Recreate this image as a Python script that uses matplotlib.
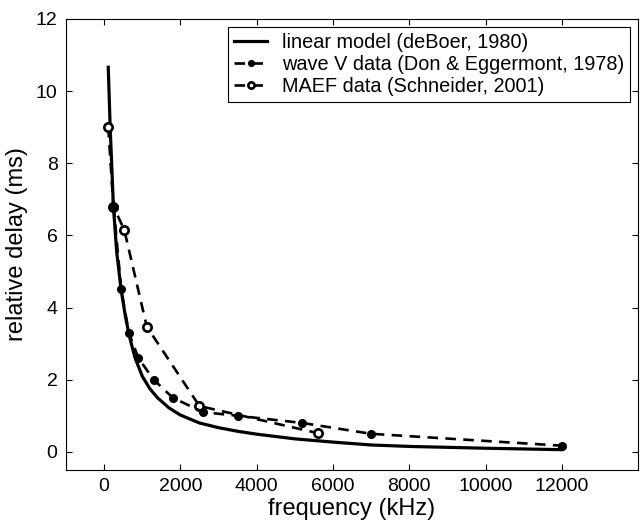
import matplotlib
matplotlib.use("Agg")
import matplotlib.pyplot as plt

plt.rcParams["font.family"] = ["Liberation Sans", "DejaVu Sans"]

# linear model (deBoer, 1980)
model_f = [110, 160, 245, 330, 446, 560, 665, 814, 1000, 1200, 1400, 1700, 2000,
           2500, 3000, 3500, 4000, 5000, 6000, 7000, 8000, 10000, 12000]
model_d = [10.66, 9.0, 6.8, 5.55, 4.5, 3.75, 3.2, 2.6, 2.1, 1.75, 1.5, 1.22, 1.02,
           0.8, 0.67, 0.57, 0.49, 0.36, 0.27, 0.19, 0.15, 0.10, 0.06]

# wave V data (Don & Eggermont, 1978)
wave_f = [250, 450, 650, 900, 1300, 1800, 2600, 3500, 5200, 7000, 12000]
wave_d = [6.8, 4.5, 3.3, 2.6, 2.0, 1.5, 1.1, 1.0, 0.8, 0.5, 0.17]

# MAEF data (Schneider, 2001)
maef_f = [110, 245, 530, 1120, 2500, 5600]
maef_d = [9.0, 6.8, 6.15, 3.47, 1.27, 0.52]

fig = plt.figure(figsize=(6.4, 5.25), dpi=100)
ax = fig.add_axes([0.103, 0.105, 0.894, 0.859])

l1, = ax.plot(model_f, model_d, color="black", lw=2.3, label="linear model (deBoer, 1980)")
l3, = ax.plot(maef_f, maef_d, color="black", lw=1.9, dashes=(4, 2.8), marker="o", ms=6,
              mfc="white", mec="black", mew=1.9, label="MAEF data (Schneider, 2001)")
l2, = ax.plot(wave_f, wave_d, color="black", lw=1.9, dashes=(4, 2.8), marker="o", ms=5.5,
              mfc="black", mec="black", label="wave V data (Don & Eggermont, 1978)")

ax.set_xlim(-1000, 14000)
ax.set_ylim(-0.5, 12)
ax.set_xticks([0, 2000, 4000, 6000, 8000, 10000, 12000])
ax.set_yticks([0, 2, 4, 6, 8, 10, 12])
ax.tick_params(direction="in", top=True, right=True, length=4, width=0.8, labelsize=14, pad=6)
for s in ax.spines.values():
    s.set_linewidth(0.8)

ax.set_xlabel("frequency (kHz)", fontsize=17, labelpad=2)
ax.set_ylabel("relative delay (ms)", fontsize=17, labelpad=6)

leg = ax.legend([l1, l2, l3], [l1.get_label(), l2.get_label(), l3.get_label()],
                loc="upper right", fontsize=14.3, fancybox=False, framealpha=1,
                edgecolor="black", borderaxespad=0.4, handlelength=1.65,
                handletextpad=0.75, borderpad=0.3, labelspacing=0.15, markerscale=0.75)
leg.get_frame().set_linewidth(0.8)

fig.savefig("out.png", dpi=100)
